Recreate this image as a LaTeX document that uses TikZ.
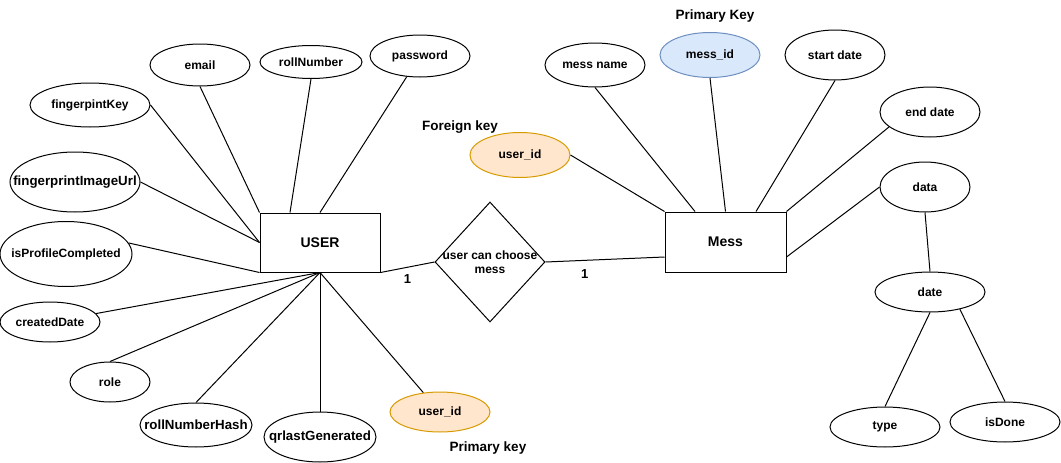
\documentclass[tikz,border=0pt]{standalone}
\usepackage{fontspec}
\setmainfont{Liberation Sans}
\usetikzlibrary{shapes.geometric}

\definecolor{keyfill}{HTML}{FFE6CC}
\definecolor{keyline}{HTML}{D79B00}
\definecolor{idfill}{HTML}{DAE8FC}
\definecolor{idline}{HTML}{6C8EBF}

\begin{document}
\begin{tikzpicture}[x=1pt, y=-1pt, line width=1pt,
  attr/.style={ellipse, draw, inner sep=0pt},
  entity/.style={rectangle, draw, inner sep=0pt, font=\bfseries\fontsize{14}{16}\selectfont},
  rel/.style={diamond, draw, inner sep=0pt},
  note/.style={font=\bfseries\fontsize{13.5}{16}\selectfont},
  card/.style={font=\bfseries\fontsize{13}{15}\selectfont},
  bigtxt/.style={font=\bfseries\fontsize{13.3}{16}\selectfont},
  every label/.style={font=\bfseries\fontsize{12}{14}\selectfont, inner sep=0pt, align=center}]
\useasboundingbox (0,0) rectangle (1061,463);

% entities and relation
\node [entity, minimum width=120pt, minimum height=59pt] (user) at (320,242.5) {USER};
\node [entity, minimum width=121pt, minimum height=60pt] (mess) at (725.5,242) {Mess};
\node [rel, minimum width=110pt, minimum height=120pt, label={center:user can choose\\mess}] (choose) at (490,262) {};

% user attributes
\node [attr, minimum width=100pt, minimum height=42pt, label=center:email] (email) at (200,65) {};
\node [attr, minimum width=102pt, minimum height=33pt, label=center:rollNumber] (rollnum) at (311,62) {};
\node [attr, minimum width=100pt, minimum height=42pt, label=center:password] (password) at (420,56) {};
\node [attr, minimum width=120pt, minimum height=44pt, label=center:fingerpintKey] (fpkey) at (90,105) {};
\node [attr, minimum width=130pt, minimum height=60pt, label={[bigtxt]center:fingerprintImageUrl}] (fpurl) at (75,182) {};
\node [attr, minimum width=132pt, minimum height=65pt, label=center:isProfileCompleted] (profile) at (66,254) {};
\node [attr, minimum width=100pt, minimum height=40pt, label=center:createdDate] (created) at (50,322) {};
\node [attr, minimum width=80pt, minimum height=40pt, label=center:role] (role) at (110,382) {};
\node [attr, minimum width=112pt, minimum height=44pt, label={[bigtxt]center:rollNumberHash}] (rollhash) at (196,425) {};
\node [attr, minimum width=112pt, minimum height=50pt, label={[bigtxt]center:qrlastGenerated}] (qrgen) at (320,437) {};
\node [attr, fill=keyfill, draw=keyline, minimum width=100pt, minimum height=40pt, label=center:user\_id] (uid) at (440,412) {};
\node [note] (pkuser) at (488,448) {Primary key};

% mess attributes
\node [attr, fill=keyfill, draw=keyline, minimum width=100pt, minimum height=45pt, label=center:user\_id] (fuid) at (520,155) {};
\node [note] (fkmess) at (460,127) {Foreign key};
\node [attr, minimum width=100pt, minimum height=44pt, label=center:mess name] (messname) at (595,65) {};
\node [attr, fill=idfill, draw=idline, minimum width=100pt, minimum height=45pt, label=center:mess\_id] (messid) at (710,55) {};
\node [note] (pkmess) at (715,16) {Primary Key};
\node [attr, minimum width=100pt, minimum height=50pt, label=center:start date] (start) at (835,55) {};
\node [attr, minimum width=100pt, minimum height=50pt, label=center:end date] (end) at (930,112) {};
\node [attr, minimum width=90pt, minimum height=50pt, label=center:data] (data) at (925,187) {};
\node [attr, minimum width=110pt, minimum height=40pt, label=center:date] (date) at (930,292) {};
\node [attr, minimum width=110pt, minimum height=40pt, label=center:type] (type) at (885,427) {};
\node [attr, minimum width=110pt, minimum height=40pt, label=center:isDone] (isdone) at (1005,422) {};

% user links
\draw (email.south) -- (user.north west);
\draw (rollnum.south) -- (user.135);
\draw (password) -- (user.north);
\draw (fpkey.east) -- (user.west);
\draw (fpurl.east) -- (user.west);
\draw (profile.10) -- (user.south west);
\draw (created) -- (user.south);
\draw (role.north) -- (user.south);
\draw (rollhash.north) -- (user.south);
\draw (qrgen.north) -- (user.south);
\draw (uid) -- (user.south);

% relation links
\draw (user.south east) -- node[card, below=3pt] {1} (choose.west);
\draw (choose.east) -- node[card, pos=.33, below=5pt] {1} ([yshift=-15pt]mess.west);

% mess links
\draw (fuid.east) -- (mess.north west);
\draw (messname.south) -- (mess.135);
\draw (messid.south) -- (mess.north);
\draw (start.south) -- (mess.45);
\draw (end.200) -- (mess.north east);
\draw (data.west) -- ([yshift=-15pt]mess.east);
\draw (data.south) -- (date.north);
\draw (date.south) -- (type.north);
\draw (date.-30) -- (isdone.north);
\end{tikzpicture}
\end{document}
